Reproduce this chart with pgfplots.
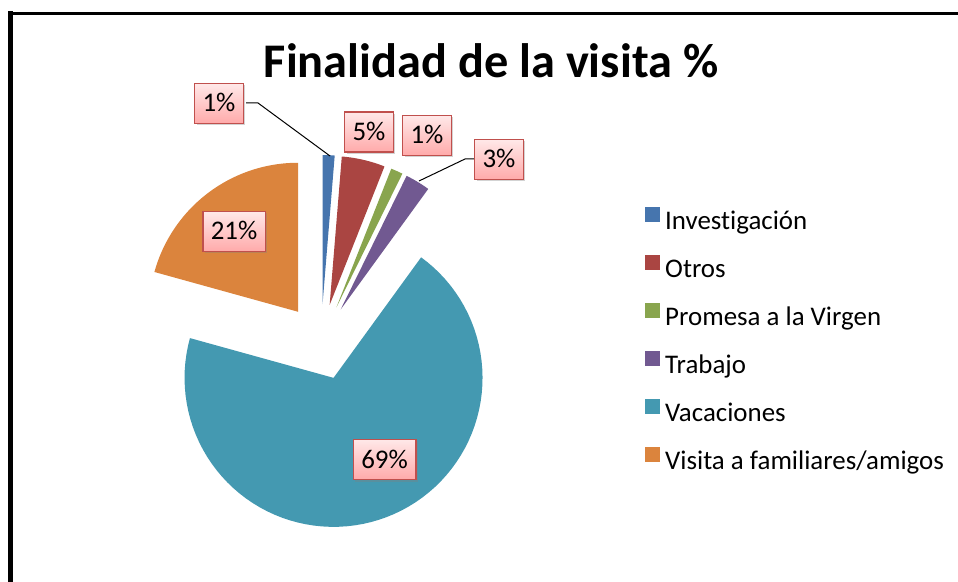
\documentclass[border=0pt]{standalone}
\usepackage{pgfplots}
\pgfplotsset{compat=1.18}
\usepackage{fontspec}
\setmainfont{Carlito}[Ligatures={NoCommon,NoContextual}]
\usetikzlibrary{shadows}
\definecolor{cInv}{RGB}{70,117,174}
\definecolor{cOtr}{RGB}{170,69,66}
\definecolor{cPro}{RGB}{137,165,78}
\definecolor{cTra}{RGB}{113,89,145}
\definecolor{cVac}{RGB}{68,153,177}
\definecolor{cVis}{RGB}{219,132,61}
\definecolor{lblred}{RGB}{192,80,77}
\definecolor{pinkTop}{RGB}{255,232,232}
\definecolor{pinkBot}{RGB}{255,170,170}
\newcommand\piefont{\fontsize{27}{32}\selectfont}
\gdef\cum{0}
% #1 = percentage, #2 = colour
\newcommand\slice[2]{%
  \pgfmathsetmacro\sa{\cum*3.6}%
  \pgfmathsetmacro\cumnew{\cum+#1}%
  \xdef\cum{\cumnew}%
  \pgfmathsetmacro\sb{\cum*3.6}%
  \pgfmathsetmacro\sm{(\sa+\sb)/2}%
  \pgfmathsetmacro\cx{321+38*sin(\sm)}%
  \pgfmathsetmacro\cy{342-38*cos(\sm)}%
  \edef\doplot{\noexpand\addplot[fill=#2, draw=none, domain=\sa:\sb, samples=80, variable=\noexpand\t]
    ({\cx+149*sin(\noexpand\t)}, {\cy-149*cos(\noexpand\t)}) -- (axis cs:\cx,\cy) -- cycle;}%
  \doplot
}
\tikzset{lbl/.style={draw=lblred, line width=1.5bp, top color=pinkTop, bottom color=pinkBot,
  drop shadow={shadow xshift=2bp, shadow yshift=-2bp, opacity=0.35},
  font=\piefont, text height=17bp, text depth=0bp, inner ysep=11.5bp, inner xsep=8bp}}
\begin{document}
\begin{tikzpicture}[x=1bp,y=1bp]
\draw[line width=5bp, line cap=butt] (10.5,0) -- (10.5,570.5);
\draw[line width=3.5bp, line cap=butt] (8,568.5) -- (958,568.5);
\begin{axis}[
  at={(0,0)}, anchor=south west,
  scale only axis, width=958bp, height=582bp,
  xmin=0, xmax=958, ymin=0, ymax=582, y dir=reverse,
  hide axis, clip=false,
  legend entries={Investigación, Otros, Promesa a la Virgen, Trabajo, Vacaciones, {Visita a familiares/amigos}},
  legend cell align=left,
  legend image code/.code={\fill[#1] (0bp,-1bp) rectangle (15bp,14bp);},
  legend style={at={(axis cs:645,207)}, anchor=north west, draw=none, fill=none,
    font=\piefont, row sep=22bp, inner sep=0pt, nodes={inner sep=2bp},
    /tikz/every odd column/.append style={column sep=3bp}},
]
\slice{1.3}{cInv}
\slice{4.7}{cOtr}
\slice{1.3}{cPro}
\slice{2.7}{cTra}
\slice{69.3}{cVac}
\slice{20.7}{cVis}
\node[font=\bfseries\fontsize{48.5}{58}\selectfont, anchor=base] at (axis cs:491,78) {Finalidad de la visita \%};
\draw[line width=1bp] (axis cs:246,103) -- (axis cs:258,103) -- (axis cs:330,156);
\draw[line width=1bp] (axis cs:475,159) -- (axis cs:465,159) -- (axis cs:419,181);
\node[lbl] at (axis cs:219,103.5) {1\%};
\node[lbl] at (axis cs:369,132) {5\%};
\node[lbl] at (axis cs:427,135.5) {1\%};
\node[lbl] at (axis cs:499,159.5) {3\%};
\node[lbl] at (axis cs:234,231.5) {21\%};
\node[lbl] at (axis cs:384.5,459.5) {69\%};
\end{axis}
\pgfresetboundingbox
\path[use as bounding box] (0,0) rectangle (958,582);
\end{tikzpicture}
\end{document}
